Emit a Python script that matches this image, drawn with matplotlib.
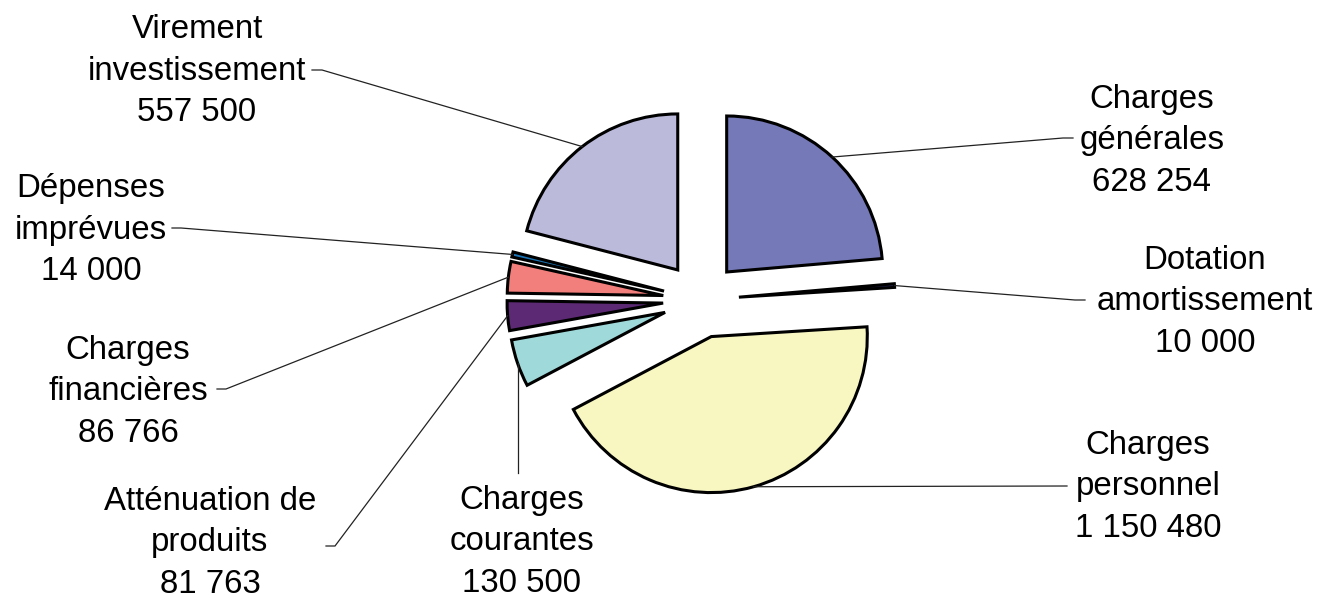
import numpy as np
import matplotlib
matplotlib.use("Agg")
import matplotlib.pyplot as plt

plt.rcParams['font.family'] = ['Liberation Sans', 'DejaVu Sans']

categories = ["Charges\ngénérales", "Dotation\namortissement", "Charges\npersonnel",
              "Charges\ncourantes", "Atténuation de\nproduits", "Charges\nfinancières",
              "Dépenses\nimprévues", "Virement\ninvestissement"]
values = [628254, 10000, 1150480, 130500, 81763, 86766, 14000, 557500]
value_labels = ["628 254", "10 000", "1 150 480", "130 500", "81 763", "86 766", "14 000", "557 500"]
colors = ["#7579B8", "#2A2A6A", "#F8F7C2", "#A0D9D9", "#5C2A74", "#F37F7C", "#1B75B5", "#BBBADB"]

# label positions (pixel coords, y down), elbow points for leaders
label_pos = [(1152, 141), (1205, 302), (1148, 487), (522, 542), (210, 543), (128, 392), (91, 230), (197, 71)]
leader_end = [(1073, 138), (1085, 300), (1067, 486), (None, 473), (326, 546), (217, 389), (172, 228), (312, 70)]
leader_elbow = [(1063, 138), (1075, 300), None, None, (335, 546), (226, 389), (181, 228), (322, 70)]

W, H = 1322, 600
fig = plt.figure(figsize=(W / 100, H / 100), dpi=100)
ax = fig.add_axes([0, 0, 1, 1])

R = 156
cx, cy = 701, H - 300
wedges, _ = ax.pie(values, colors=colors, startangle=90, counterclock=False,
                   radius=R, center=(cx, cy), explode=[38] * len(values),
                   wedgeprops=dict(edgecolor="black", linewidth=2.2, joinstyle="miter"))
ax.set_xlim(0, W)
ax.set_ylim(0, H)
ax.set_aspect("equal")
ax.axis("off")

for i, w in enumerate(wedges):
    th = np.deg2rad((w.theta1 + w.theta2) / 2)
    wx, wy = w.center
    px, py = wx + w.r * np.cos(th), wy + w.r * np.sin(th)
    ex, ey = leader_end[i]
    if ex is None:
        xs, ys = [px, px], [py, H - ey]
    elif leader_elbow[i] is None:
        xs, ys = [px, ex], [py, H - ey]
    else:
        bx, by = leader_elbow[i]
        xs, ys = [px, bx, ex], [py, H - by, H - ey]
    ax.plot(xs, ys, color="#222222", lw=0.9, solid_joinstyle="miter")
    lx, ly = label_pos[i]
    ax.text(lx, H - ly, categories[i] + "\n" + value_labels[i], ha="center", va="center",
            fontsize=23.8, linespacing=1.44, color="black")

fig.savefig("out.png", dpi=100)
